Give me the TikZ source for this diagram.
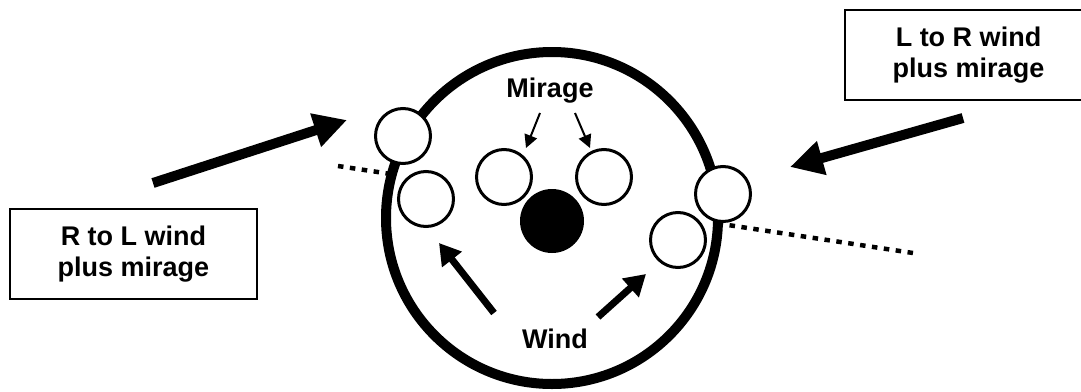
\documentclass[tikz,border=0pt]{standalone}
\usepackage{fontspec}
\setmainfont{Liberation Sans}
\usetikzlibrary{arrows.meta}
\begin{document}
\begin{tikzpicture}[x=1pt,y=-1pt,
  labeltext/.style={font=\fontsize{27}{31}\selectfont\bfseries},
  rim/.style={circle, draw, fill=white, line width=10pt, minimum size=332pt, inner sep=0pt},
  ring/.style={circle, draw, fill=white, line width=3pt, minimum size=55pt, inner sep=0pt},
  core/.style={circle, fill=black, minimum size=64pt, inner sep=0pt},
  sightline/.style={line width=4.5pt, dash pattern=on 5.5pt off 6.5pt},
  bigarrow/.style={line width=10pt, -{Triangle[length=33pt,width=33pt]}},
  windarrow/.style={line width=7pt, -{Triangle[length=21pt,width=24pt]}},
  thinarrow/.style={line width=2pt, -{Triangle[length=13pt,width=13pt]}},
  captionbox/.style={draw, line width=2pt, minimum width=247pt, minimum height=90pt,
    align=center, inner sep=0pt, labeltext},
]
\useasboundingbox (0,0) rectangle (1081,391);
\fill[white] (0,0) rectangle (1081,391);
\clip (0,0) rectangle (1081,391);

% line of sight through the target, hidden inside the face
\coordinate (sightL) at (338,166);
\coordinate (sightR) at (913,253);
\draw[sightline] (sightL) -- (sightR);

% target face and centre
\node[rim] (face) at (552,218) {};
\node[core] (bull) at (552,221) {};

% shot groups
\node[ring] (rimTL) at (403,136) {};
\node[ring] (inL)   at (426,199) {};
\node[ring] (mirL)  at (504,177) {};
\node[ring] (mirR)  at (604,177) {};
\node[ring] (inR)   at (678,240) {};
\node[ring] (rimR)  at (723,194) {};

% labels
\node[labeltext, anchor=base] (mirage) at (550,97) {Mirage};
\node[labeltext, anchor=base] (wind) at (555,348) {Wind};

% mirage pointers
\coordinate (mlTail) at (540,113);
\coordinate (mlTip)  at (526,148);
\coordinate (mrTail) at (575,113);
\coordinate (mrTip)  at (590,148);
\draw[thinarrow] (mlTail) -- (mlTip);
\draw[thinarrow] (mrTail) -- (mrTip);

% wind pointers
\coordinate (wlTail) at (494,313);
\coordinate (wlTip)  at (439,243);
\coordinate (wrTail) at (598,317);
\coordinate (wrTip)  at (646,274);
\draw[windarrow] (wlTail) -- (wlTip);
\draw[windarrow] (wrTail) -- (wrTip);

% caption boxes
\node[captionbox] (rlbox) at (133.5,254) {R to L wind\\plus mirage};
\node[captionbox] (lrbox) at (968.5,55) {L to R wind\\plus mirage};

% heavy arrows from the captions
\coordinate (blTail) at (153,183);
\coordinate (blTip)  at (347,120);
\coordinate (brTail) at (963,118);
\coordinate (brTip)  at (790,167);
\draw[bigarrow] (blTail) -- (blTip);
\draw[bigarrow] (brTail) -- (brTip);
\end{tikzpicture}
\end{document}
